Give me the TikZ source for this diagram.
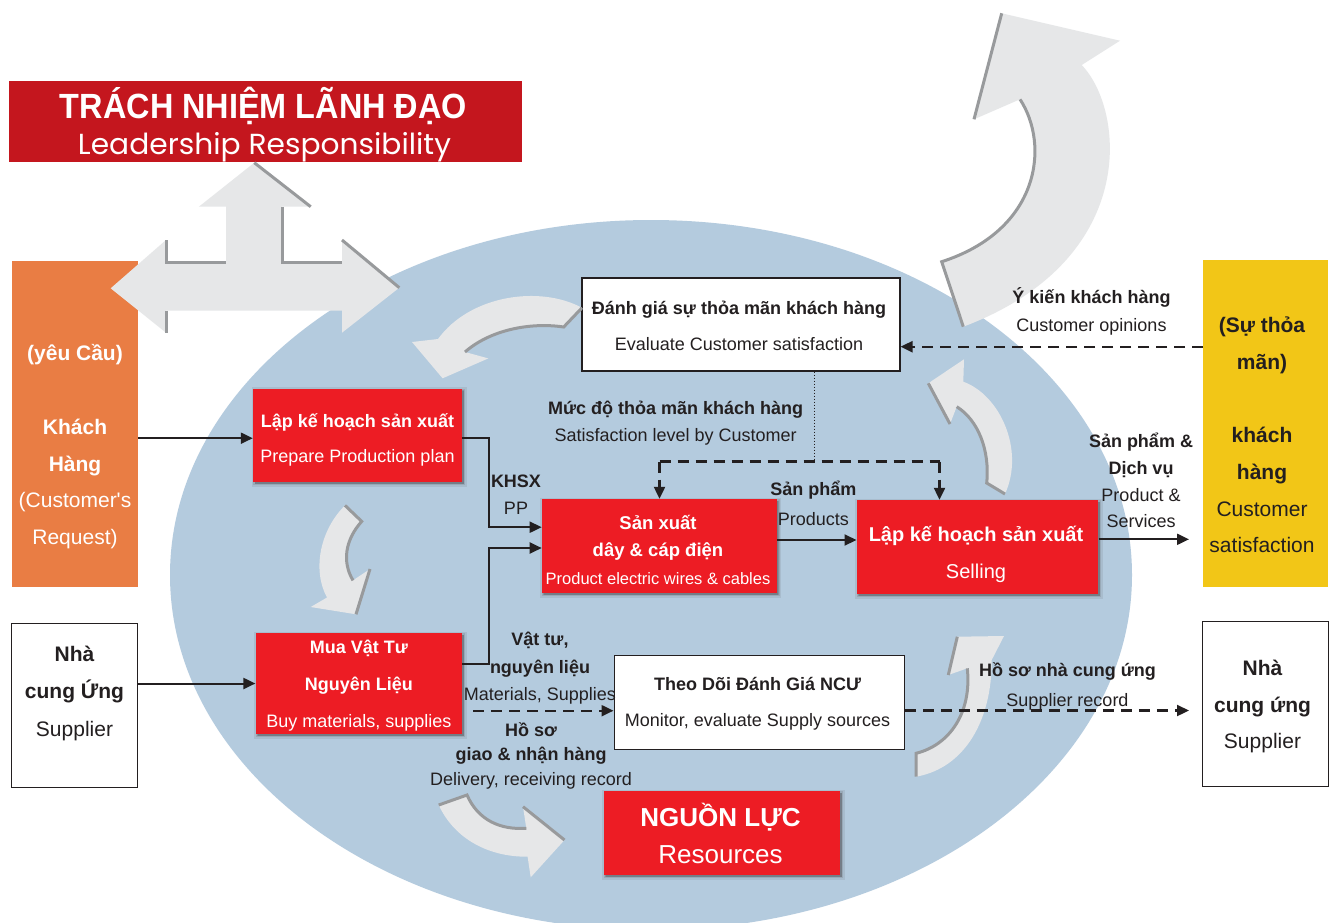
\documentclass[tikz,border=0pt]{standalone}
\usepackage{graphicx}
\usepackage{fontspec}
\setmainfont{Liberation Sans}
\newfontfamily\popfont{Poppins}
\usetikzlibrary{arrows.meta,shadows}
\definecolor{boxred}{RGB}{237,28,36}
\definecolor{titlered}{RGB}{196,22,30}
\definecolor{orangebox}{RGB}{233,125,68}
\definecolor{yellowbox}{RGB}{242,198,23}
\definecolor{ellblue}{RGB}{180,203,222}
\definecolor{arrgray}{RGB}{230,231,232}
\definecolor{edgegray}{RGB}{152,154,156}
\definecolor{ink}{RGB}{35,31,32}
\newcommand\st{\rule[-0.25em]{0pt}{1.25em}}
\newcommand\fs[2]{\fontsize{#1}{#2}\selectfont}
\begin{document}
\begin{tikzpicture}[x=1pt,y=-1pt,
  redbox/.style={fill=boxred, inner sep=0pt,
    general shadow={fill=black!75, draw=black!75, line width=6pt, opacity=0.10, shadow xshift=1.5pt, shadow yshift=-1.5pt},
    general shadow={fill=black!75, draw=black!75, line width=3pt, opacity=0.15, shadow xshift=1.5pt, shadow yshift=-1.5pt},
    general shadow={fill=black!75, opacity=0.22, shadow xshift=2pt, shadow yshift=-2pt}},
  whitebox/.style={fill=white, draw=ink, line width=1.1pt, inner sep=0pt},
  colbox/.style={inner sep=0pt, draw=none},
  txt/.style={align=center, inner sep=0pt, text=ink},
  wtxt/.style={align=center, inner sep=0pt, text=white},
  conn/.style={draw=ink, line width=2pt, -{Triangle[length=12pt,width=11pt]}},
  dconn/.style={draw=ink, line width=2.2pt, dash pattern=on 11pt off 7pt, -{Triangle[length=12pt,width=11pt]}},
  dline/.style={draw=ink, line width=2.2pt, dash pattern=on 11pt off 7pt},
  dotline/.style={draw=ink, line width=0.9pt, dash pattern=on 1.5pt off 1.5pt},
  garrow/.style={fill=arrgray},
  gedge/.style={draw=edgegray, line width=3pt, line cap=butt},
]
\useasboundingbox (0,0) rectangle (1336,922);
\clip (0,0) rectangle (1336,922);
\fill[white] (0,0) rectangle (1336,922);
\fill[ellblue] (651,575) ellipse [x radius=481pt, y radius=355pt];

% side boxes
\node[colbox, fill=orangebox, minimum width=126pt, minimum height=326pt] (cust) at (75,424) {};
\node[colbox, fill=yellowbox, minimum width=125.5pt, minimum height=327.5pt] (sat) at (1265.7,423.7) {};
\node[whitebox, minimum width=125.6pt, minimum height=164.3pt] (supL) at (74.5,705.4) {};
\node[whitebox, minimum width=125.6pt, minimum height=165pt] (supR) at (1265.5,704.2) {};
\node[colbox, fill=titlered, minimum width=513pt, minimum height=81pt] (title) at (265.5,121.5) {};

% cross arrow
\fill[garrow] (254.3,162.7) -- (310.7,206.7) -- (282,206.7) -- (282,262.7) -- (342,262.7) -- (342,240) -- (399.3,287.7) -- (342,332.7) -- (342,310.7) -- (166,310.7) -- (166,332.7) -- (110.7,288.3) -- (166,240) -- (166,262.7) -- (226,262.7) -- (226,206.7) -- (198.9,206.7) -- cycle;
\draw[gedge] (254.3,162.7) -- (310.7,206.7);
\draw[gedge] (282,206.7) -- (282,262.7) -- (342,262.7);
\draw[gedge] (166,240) -- (166,262.7) -- (226,262.7);
\draw[gedge] (342,240) -- (399.3,287.7);
\draw[gedge] (166,310.7) -- (166,332.7);

% big arrow top right
\fill[garrow] (1001.7,13.3) -- (1120,40.7) -- (1081.7,65) .. controls (1125,110) and (1140,260) .. (963.3,326.7) -- (941.7,261.7) .. controls (1040,230) and (1050,145) .. (1020,99.3) -- (974,119.3) -- cycle;
\draw[gedge] (974,119.3) -- (1001.7,13.3);
\draw[gedge] (1020,99.3) .. controls (1050,145) and (1040,230) .. (941.7,261.7) -- (963.3,326.7);

% process boxes
\node[redbox, minimum width=209pt, minimum height=93.5pt] (B1) at (357.5,435.7) {};
\node[redbox, minimum width=206.4pt, minimum height=101pt] (B2) at (358.8,683.5) {};
\node[redbox, minimum width=234.8pt, minimum height=94pt] (B3) at (659.3,546) {};
\node[redbox, minimum width=241.6pt, minimum height=94pt] (B4) at (977.5,547) {};
\node[redbox, minimum width=236.6pt, minimum height=84pt] (B5) at (722.1,833) {};
\node[whitebox, minimum width=318pt, minimum height=93pt] (W1) at (741,324.5) {};
\node[whitebox, minimum width=290.3pt, minimum height=93.3pt] (W2) at (759.2,702.4) {};

% curved arrows in the cycle
% A1
\fill[garrow] (582,307.8) .. controls (540,285) and (470,295) .. (438,339) -- (412,342) -- (442.6,378.3) -- (488.3,358.4) -- (465,352) .. controls (490,330) and (530,322) .. (563.7,327) -- cycle;
\draw[gedge] (582,307.8) -- (563.7,327) .. controls (530,322) and (490,330) .. (465,352);
% A2
\fill[garrow] (345,505.4) .. controls (320,530) and (312,570) .. (327,597.5) -- (310.7,607) -- (356,614.3) -- (370,569) -- (353,580.4) .. controls (342,562) and (345,540) .. (361.7,521.4) -- cycle;
\draw[gedge] (345,505.4) -- (361.7,521.4) .. controls (345,540) and (342,562) .. (353,580.4);
\draw[gedge] (370,569) -- (356,614.3);
% A3
\fill[garrow] (438.7,805) .. controls (455,840) and (490,857) .. (527.6,856.7) -- (530.7,877.3) -- (564.5,840) -- (523,806.7) -- (526.3,828.3) .. controls (500,830) and (478,820) .. (467,795) -- cycle;
\draw[gedge] (438.7,805) -- (467,795) .. controls (478,820) and (500,830) .. (526.3,828.3);
\draw[gedge] (523,806.7) -- (564.5,840);
% A4
\fill[garrow] (964,359.3) -- (963.3,381.7) .. controls (1000,395) and (1025,450) .. (1005,494) -- (986.7,483) .. controls (990,450) and (978,420) .. (956.7,406.7) -- (950,424) -- (928.3,383.3) -- cycle;
\draw[gedge] (928.3,383.3) -- (950,424);
\draw[gedge] (956.7,406.7) .. controls (978,420) and (990,450) .. (986.7,483) -- (1005,494);
% A5
\fill[garrow] (948.3,675) -- (957.3,636.7) -- (1004,636) -- (991.7,660) .. controls (992,720) and (965,768) .. (916,776.7) -- (916,753.3) .. controls (950,745) and (972,712) .. (967.3,668.3) -- cycle;
\draw[gedge] (948.3,675) -- (957.3,636.7);
\draw[gedge] (967.3,668.3) .. controls (972,712) and (950,745) .. (916,753.3) -- (916,776.7);

% connectors
\coordinate (B1in) at ([yshift=-2.5pt]B1.west);
\coordinate (B1out) at ([yshift=-2.5pt]B1.east);
\coordinate (B2out) at ([yshift=19.7pt]B2.east);
\coordinate (B3inA) at ([yshift=18.8pt]B3.west);
\coordinate (B3inB) at ([yshift=-2pt]B3.west);
\coordinate (vx) at (488.5,0);
\coordinate (B3out) at ([yshift=6pt]B3.east);
\coordinate (B4out) at ([yshift=7.7pt]B4.east);
\coordinate (outP) at (1189,539.3);
\coordinate (opY) at (1203,346.7);
\coordinate (dotE) at (814,461.5);
\coordinate (jL) at (659.5,461.5);
\coordinate (jR) at (939.5,461.5);
\coordinate (mS) at (473,710.7);
\coordinate (supE) at (1189,710.5);

\draw[conn] (cust.east |- B1in) -- (B1in);
\draw[conn] (supL.east |- B2.west) -- (B2.west);
\draw[conn] (B1out) -- (B1out -| vx) -- (vx |- B3inA) -- (B3inA);
\draw[conn] (B2out) -- (B2out -| vx) -- (vx |- B3inB) -- (B3inB);
\draw[conn] (B3out) -- (B3out -| B4.west);
\draw[conn] (B4out) -- (B4out -| outP);
\draw[dconn] (opY) -- (opY -| W1.east);
\draw[dotline] (dotE |- W1.south) -- (dotE);
\draw[dline] (jL) -- (jR);
\draw[dconn] (jL) -- (jL |- B3.north);
\draw[dconn] (jR) -- (jR |- B4.north);
\draw[dconn] (mS) -- (mS -| W2.west);
\draw[dconn] (supE -| W2.east) -- (supE);

% title texts
\node[anchor=base, inner sep=0pt, text=white, font=\bfseries\fs{35}{35}] (t1) at (263.5,118.3) {\resizebox{407pt}{\height}{TRÁCH NHIỆM LÃNH ĐẠO}};
\node[anchor=base, inner sep=0pt, text=white, font=\popfont\fs{29}{29}] (t2) at (264.5,154.3) {\resizebox{373pt}{\height}{Leadership Responsibility}};

% box texts
\node[wtxt, font=\fs{21}{36.8}] (custT) at (75,444.8) {\st\textbf{(yêu Cầu)}\\\st\\\st\textbf{Khách}\\\st\textbf{Hàng}\\\st(Customer\textquotesingle s\\\st Request)};
\node[txt, font=\fs{21}{36.7}] (satT) at (1262,435) {\st\textbf{(Sự thỏa}\\\st\textbf{mãn)}\\\st\\\st\textbf{khách}\\\st\textbf{hàng}\\\st Customer\\\st satisfaction};
\node[txt, font=\fs{21}{37.5}] (supLT) at (74.5,691.1) {\st\textbf{Nhà}\\\st\textbf{cung Ứng}\\\st Supplier};
\node[txt, font=\fs{21}{36.8}] (supRT) at (1262.5,704.2) {\st\textbf{Nhà}\\\st\textbf{cung ứng}\\\st Supplier};
\node[txt, font=\fs{18}{36.4}] (W1t) at (739,326) {\st\textbf{Đánh giá sự thỏa mãn khách hàng}\\\st Evaluate Customer satisfaction};
\node[txt, font=\fs{18}{36.7}] (W2t) at (757.5,701.7) {\st\textbf{Theo Dõi Đánh Giá NCƯ}\\\st Monitor, evaluate Supply sources};
\node[wtxt, font=\fs{18}{35}] (B1t) at (357.5,438.7) {\st\textbf{Lập kế hoạch sản xuất}\\\st Prepare Production plan};
\node[wtxt, font=\fs{18}{37}] (B2t) at (358.8,684) {\st\textbf{Mua Vật Tư}\\\st\textbf{Nguyên Liệu}\\\st Buy materials, supplies};
\node[wtxt, font=\fs{18.5}{27.3}] (B3t) at (658,549.6) {\st\textbf{Sản xuất}\\\st\textbf{dây \& cáp điện}\\{\fs{16.5}{27.3}\st Product electric wires \& cables}};
\node[wtxt, font=\fs{20}{36.7}] (B4t) at (976,552.3) {\st\textbf{Lập kế hoạch sản xuất}\\\st Selling};
\node[wtxt, font=\fs{26}{37.3}] (B5t) at (720.5,835.3) {\st\textbf{NGUỒN LỰC}\\\st Resources};

% connector labels
\node[txt, font=\fs{18}{26.5}] (lKH) at (516,494) {\st\textbf{KHSX}\\\st PP};
\node[txt, font=\fs{18}{29.8}] (lSP) at (813.3,504.1) {\st\textbf{Sản phẩm}\\\st Products};
\node[txt, font=\fs{18}{26.7}] (lSPD) at (1141,481) {\st\textbf{Sản phẩm \&}\\\st\textbf{Dịch vụ}\\\st Product \&\\\st Services};
\node[txt, font=\fs{18}{26.6}] (lMD) at (675.7,421.3) {\st\textbf{Mức độ thỏa mãn khách hàng}\\\st Satisfaction level by Customer};
\node[txt, font=\fs{18}{28.3}] (lYK) at (1091.5,310.8) {\st\textbf{Ý kiến khách hàng}\\\st Customer opinions};
\node[txt, font=\fs{18}{27.5}] (lVT) at (540,666.4) {\st\textbf{Vật tư,}\\\st\textbf{nguyên liệu}\\\st Materials, Supplies};
\node[txt, font=\fs{18}{24.2}] (lHS) at (531,754.1) {\st\textbf{Hồ sơ}\\\st\textbf{giao \& nhận hàng}\\\st Delivery, receiving record};
\node[txt, font=\fs{18}{29.3}] (lNC) at (1067.5,684.7) {\st\textbf{Hồ sơ nhà cung ứng}\\\st Supplier record};
\end{tikzpicture}
\end{document}
